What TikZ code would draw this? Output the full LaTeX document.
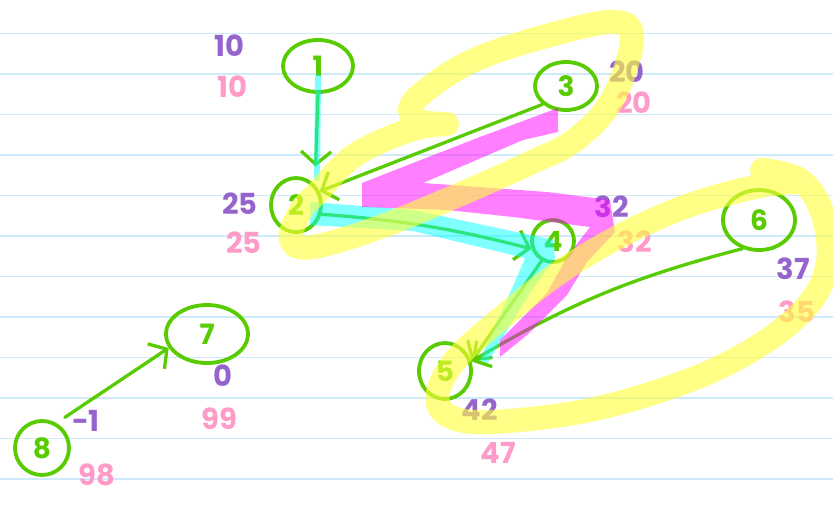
\documentclass[tikz,border=0pt]{standalone}
\usepackage{fontspec}
\setmainfont{Poppins}
\usetikzlibrary{shapes.geometric,arrows.meta}
\definecolor{gr}{RGB}{88,204,0}
\definecolor{pur}{RGB}{150,100,205}
\definecolor{pnk}{RGB}{255,155,200}
\definecolor{rulec}{RGB}{205,235,250}
\definecolor{hly}{RGB}{255,255,60}
\definecolor{hlc}{RGB}{0,255,255}
\definecolor{hlm}{RGB}{255,0,255}
\begin{document}
\begin{tikzpicture}[x=1pt,y=-1pt,line cap=round,line join=round,
  vtx/.style={ellipse,draw=gr,line width=3.8pt,inner sep=0pt,text=gr,font=\fontsize{28}{28}\selectfont\bfseries},
  edge/.style={draw=gr,line width=3.3pt,-{Straight Barb[length=13pt,width=30pt]}},
  lab/.style={inner sep=0pt,font=\fontsize{29}{29}\selectfont\bfseries},
  plab/.style={lab,text=pur},
  klab/.style={lab,text=pnk},
  hy/.style={draw=hly,draw opacity=0.62,line width=24pt},
  hm/.style={fill=hlm,fill opacity=0.5},
  hc/.style={fill=hlc,fill opacity=0.5}]
\useasboundingbox (0,0) rectangle (833,509);
\fill[white] (0,0) rectangle (833,509);
% ruled lines
\foreach \k in {0,...,11}
  \draw[rulec,line width=1.5pt] (0,33.5+40.5*\k) -- (833,33.5+40.5*\k);
% nodes
\node[vtx,minimum width=70pt,minimum height=52pt] (n1) at (318,66) {1};
\node[vtx,minimum width=50pt,minimum height=54pt] (n2) at (296,205) {2};
\node[vtx,minimum width=62pt,minimum height=48pt] (n3) at (566,86) {3};
\node[vtx,minimum width=42pt,minimum height=42pt] (n4) at (553,241) {4};
\node[vtx,minimum width=52pt,minimum height=56pt] (n5) at (445,371) {5};
\node[vtx,minimum width=72pt,minimum height=60pt] (n6) at (759,220) {6};
\node[vtx,minimum width=82pt,minimum height=58pt] (n7) at (207,334) {7};
\node[vtx,minimum width=54pt,minimum height=54pt] (n8) at (42,448) {8};
% edges
\draw[edge,shorten >=18pt] (n1.south) -- (n2.north east);
\draw[edge] (n3.south west) -- (n2.30);
\draw[edge] (n2.-20) to[bend left=5] (n4.200);
\draw[edge] (n4.240) -- (n5.20);
\draw[edge] (n6.240) to[bend right=8] (n5.20);
\draw[edge,shorten <=10pt] (n8.60) -- (n7.200);
% labels
\node[plab] (a1) at (229,46) {10};
\node[klab] (b1) at (232,87) {10};
\node[plab] (a3) at (627,72) {20};
\node[klab] (b3) at (634,103) {20};
\node[plab] (a2) at (240,204) {25};
\node[klab] (b2) at (244,243) {25};
\node[plab] (a4) at (612,207) {32};
\node[klab] (b4) at (635,242) {32};
\node[plab] (a6) at (793,269) {37};
\node[klab] (b6) at (797,312) {35};
\node[plab] (a5) at (480,410) {42};
\node[klab] (b5) at (498,453) {47};
\node[plab] (a7) at (223,376) {0};
\node[klab] (b7) at (219,419) {99};
\node[plab] (a8) at (86,421) {-1};
\node[klab] (b8) at (97,475) {98};
% cyan highlight
\draw[hlc,draw opacity=0.5,line width=6pt] (318,77) -- (317,178);
\path[hc] (310,202) -- (413,210) -- (535,236) -- (553,240) -- (555,258) -- (530,293)
  -- (495,350) -- (488,363) -- (480,360) -- (517,277) -- (525,258) -- (413,231) -- (310,225) -- cycle;
% magenta highlight
\path[hm] (558,108) -- (558,132) -- (523,140) -- (423,183) -- (547,192) -- (610,200)
  -- (615,232) -- (587,262) -- (567,295) -- (527,335) -- (500,357) -- (500,340)
  -- (547,293) -- (567,257) -- (590,227) -- (513,217) -- (447,210) -- (362,207)
  -- (362,183) -- (413,163) -- (480,137) -- cycle;
% yellow highlights
\draw[hy] plot[smooth,tension=0.6] coordinates {(447,124) (416,120) (415,100) (470,62) (550,35) (615,22)
  (632,40) (612,100) (575,140) (530,163) (463,193) (380,227) (313,247) (291,240) (300,212)
  (318,192) (355,155) (410,130) (447,124)};
\draw[hy] plot[smooth,tension=0.6] coordinates {(762,170) (800,180) (822,212) (828,262) (808,305)
  (760,345) (690,380) (590,410) (490,422) (447,415) (438,392) (458,357) (505,315) (560,272)
  (622,235) (690,205) (760,186) (800,182)};
\end{tikzpicture}
\end{document}
